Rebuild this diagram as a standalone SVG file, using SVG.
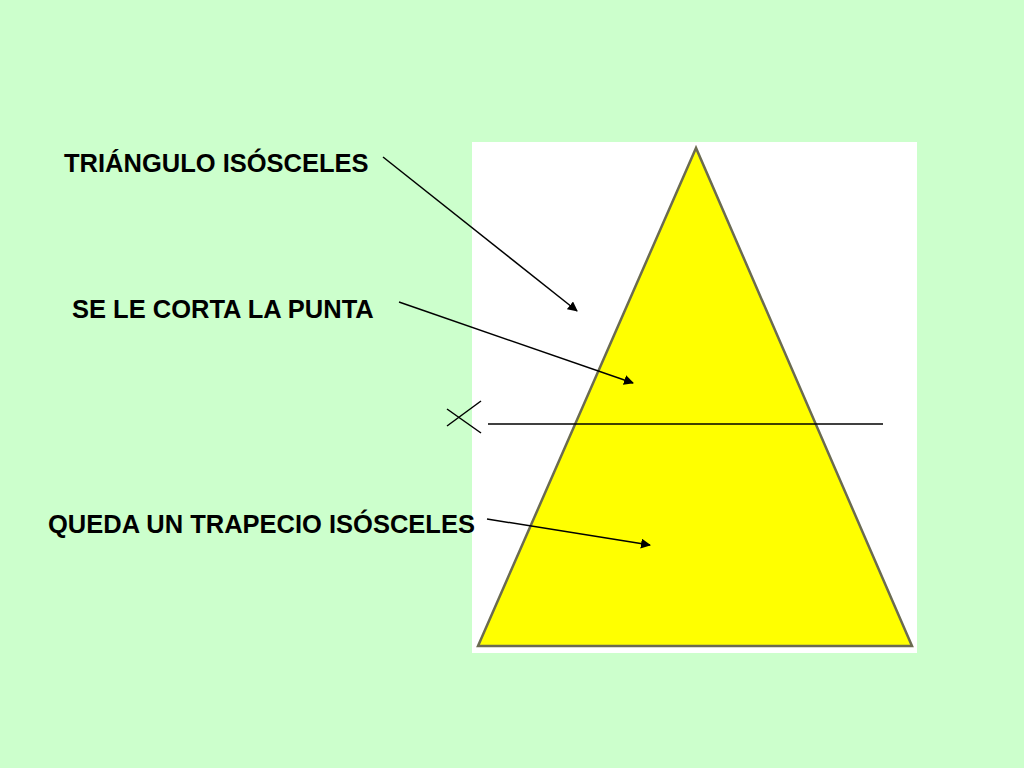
<svg xmlns="http://www.w3.org/2000/svg" width="1024" height="768" viewBox="0 0 1024 768">
<defs>
<style>
.lbl{font-family:"Liberation Sans",Arial,sans-serif;font-weight:bold;font-size:25.5px;fill:#000}
.ln{stroke:#000;stroke-width:1.5;fill:none}
.arr{stroke:#000;stroke-width:1.5;fill:none;marker-end:url(#ah)}
</style>
<marker id="ah" viewBox="0 0 10 10" refX="9" refY="5" markerWidth="10" markerHeight="10" markerUnits="userSpaceOnUse" orient="auto">
<path d="M0,0 L10,5 L0,10 z" fill="#000"/>
</marker>
</defs>
<rect x="0" y="0" width="1024" height="768" fill="#ccffcc"/>
<g id="figure">
<rect x="472" y="142" width="445" height="511" fill="#ffffff"/>
<polygon points="696,148 478,646 912,646" fill="#ffff00" stroke="#6b6b50" stroke-width="2.5" stroke-linejoin="miter"/>
</g>
<g id="cut">
<line class="ln" x1="488" y1="424" x2="883" y2="424"/>
<line class="ln" x1="447" y1="409" x2="481" y2="433"/>
<line class="ln" x1="447" y1="426" x2="481" y2="401"/>
</g>
<g id="label-triangulo"><text class="lbl" x="64" y="172">TRIÁNGULO ISÓSCELES</text></g>
<g id="label-corta"><text class="lbl" x="72" y="318">SE LE CORTA LA PUNTA</text></g>
<g id="label-trapecio"><text class="lbl" x="48" y="533">QUEDA UN TRAPECIO ISÓSCELES</text></g>
<g id="connectors">
<line class="arr" x1="383" y1="157" x2="577" y2="311"/>
<line class="arr" x1="399" y1="302" x2="633" y2="383"/>
<line class="arr" x1="487" y1="519" x2="650" y2="545"/>
</g>
</svg>
